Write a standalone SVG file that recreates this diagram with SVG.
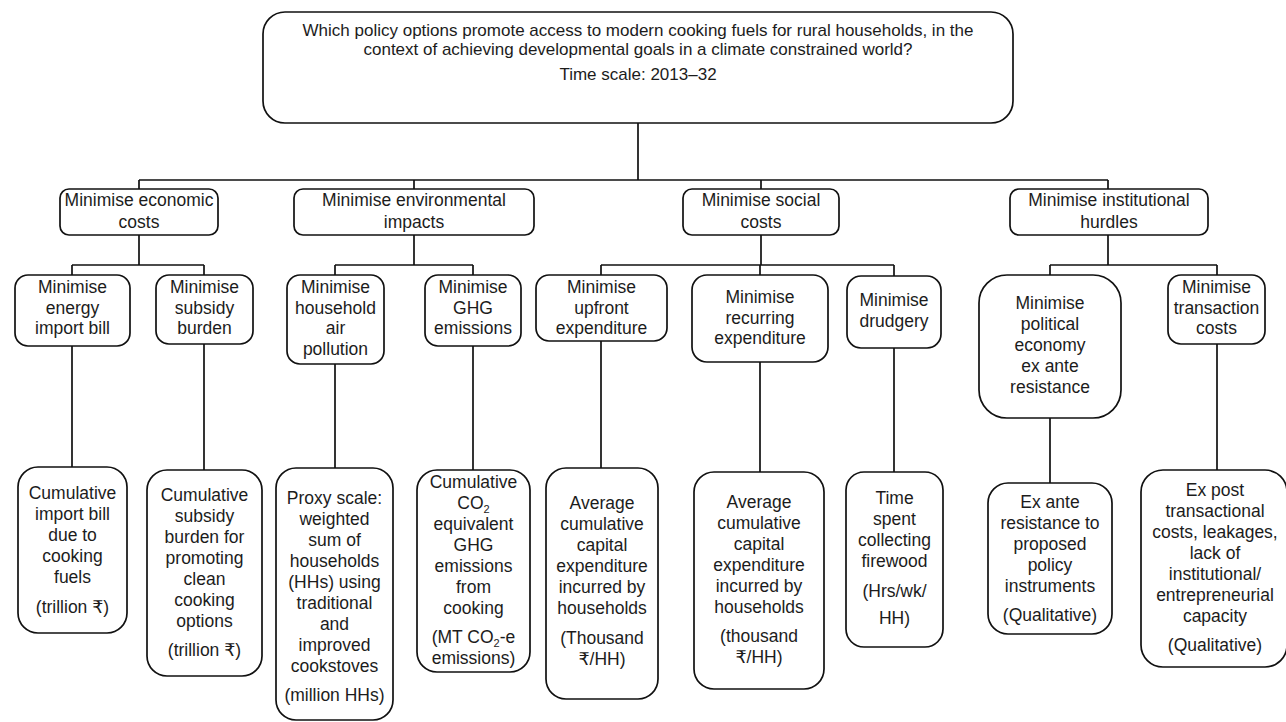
<svg xmlns="http://www.w3.org/2000/svg" width="1286" height="722" viewBox="0 0 1286 722">
<style>
.box{fill:#fff;stroke:#111;stroke-width:1.7}
.conn{fill:none;stroke:#111;stroke-width:1.7}
text{font-family:"Liberation Sans","DejaVu Sans","Noto Sans",sans-serif;font-size:17.5px;text-anchor:middle;fill:#1c1c1c}
.top text{font-size:17px}
.sub{font-size:11px}
</style>
<rect width="1286" height="722" fill="#fff"/>
<g id="connectors" class="conn">
<path d="M638 123V180M139 180H1108M139 180V189M414 180V189M761 180V189M1108 180V189"/>
<path d="M139 235V265M414 235V265M761 235V265M1108 235V265"/>
<path d="M72 265H204M335 265H473M601 265H894M1050 265H1217"/>
<path d="M72 265V275M204 265V275M335 265V275M473 265V275M601 265V275M760 265V275M894 265V276M1050 265V275M1217 265V275"/>
<path d="M72 346V467M204 344V470M335 364V468M473 346V470M601 341V468M760 362V472M894 348V472M1050 418V483M1217 344V470"/>
</g>
<g id="root" class="top">
<rect class="box" x="263" y="12" width="750" height="111" rx="22"/>
<text x="638" y="36">Which policy options promote access to modern cooking fuels for rural households, in the</text>
<text x="638" y="55">context of achieving developmental goals in a climate constrained world?</text>
<text x="638" y="80">Time scale: 2013–32</text>
</g>
<g id="economic">
<rect class="box" x="60" y="189" width="158" height="46" rx="9"/>
<text x="139" y="206">Minimise economic</text><text x="139" y="228">costs</text>
</g>
<g id="environmental">
<rect class="box" x="294" y="189" width="240" height="46" rx="9"/>
<text x="414" y="206">Minimise environmental</text><text x="414" y="228">impacts</text>
</g>
<g id="social">
<rect class="box" x="683" y="189" width="156" height="46" rx="9"/>
<text x="761" y="206">Minimise social</text><text x="761" y="228">costs</text>
</g>
<g id="institutional">
<rect class="box" x="1010" y="189" width="198" height="46" rx="9"/>
<text x="1109" y="206">Minimise institutional</text><text x="1109" y="228">hurdles</text>
</g>
<g id="energy">
<rect class="box" x="15" y="275" width="115" height="71" rx="13"/>
<text x="72.5" y="293">Minimise</text><text x="72.5" y="314">energy</text><text x="72.5" y="334">import bill</text>
</g>
<g id="subsidy">
<rect class="box" x="156" y="275" width="97" height="69" rx="13"/>
<text x="204.5" y="293">Minimise</text><text x="204.5" y="314">subsidy</text><text x="204.5" y="334">burden</text>
</g>
<g id="household">
<rect class="box" x="287" y="275" width="97" height="89" rx="13"/>
<text x="335.5" y="293">Minimise</text><text x="335.5" y="314">household</text><text x="335.5" y="334">air</text><text x="335.5" y="355">pollution</text>
</g>
<g id="ghg">
<rect class="box" x="425" y="275" width="96" height="71" rx="13"/>
<text x="473" y="293">Minimise</text><text x="473" y="314">GHG</text><text x="473" y="334">emissions</text>
</g>
<g id="upfront">
<rect class="box" x="536" y="275" width="131" height="66" rx="13"/>
<text x="601.5" y="293">Minimise</text><text x="601.5" y="314">upfront</text><text x="601.5" y="334">expenditure</text>
</g>
<g id="recurring">
<rect class="box" x="692" y="275" width="136" height="87" rx="15"/>
<text x="760" y="303">Minimise</text><text x="760" y="324">recurring</text><text x="760" y="344">expenditure</text>
</g>
<g id="drudgery">
<rect class="box" x="847" y="276" width="94" height="72" rx="14"/>
<text x="894" y="306">Minimise</text><text x="894" y="327">drudgery</text>
</g>
<g id="political">
<rect class="box" x="979" y="275" width="142" height="143" rx="28"/>
<text x="1050" y="309">Minimise</text><text x="1050" y="330">political</text><text x="1050" y="351">economy</text><text x="1050" y="372">ex ante</text><text x="1050" y="393">resistance</text>
</g>
<g id="transaction">
<rect class="box" x="1168" y="275" width="97" height="69" rx="13"/>
<text x="1216.5" y="293">Minimise</text><text x="1216.5" y="314">transaction</text><text x="1216.5" y="334">costs</text>
</g>
<g id="import-bill">
<rect class="box" x="18" y="467" width="109" height="166" rx="20"/>
<text x="72.5" y="499">Cumulative</text><text x="72.5" y="520">import bill</text><text x="72.5" y="541">due to</text><text x="72.5" y="562">cooking</text><text x="72.5" y="583">fuels</text>
<text x="72.5" y="613">(trillion ₹)</text>
</g>
<g id="subsidy-burden">
<rect class="box" x="147" y="470" width="115" height="206" rx="20"/>
<text x="204.5" y="501">Cumulative</text><text x="204.5" y="522">subsidy</text><text x="204.5" y="543">burden for</text><text x="204.5" y="564">promoting</text><text x="204.5" y="585">clean</text><text x="204.5" y="606">cooking</text><text x="204.5" y="627">options</text>
<text x="204.5" y="656">(trillion ₹)</text>
</g>
<g id="proxy-scale">
<rect class="box" x="276" y="468" width="117" height="252" rx="20"/>
<text x="334.5" y="504">Proxy scale:</text><text x="334.5" y="525">weighted</text><text x="334.5" y="546">sum of</text><text x="334.5" y="567">households</text><text x="334.5" y="588">(HHs) using</text><text x="334.5" y="609">traditional</text><text x="334.5" y="630">and</text><text x="334.5" y="651">improved</text><text x="334.5" y="672">cookstoves</text>
<text x="334.5" y="701">(million HHs)</text>
</g>
<g id="co2">
<rect class="box" x="417" y="470" width="113" height="202" rx="20"/>
<text x="473.5" y="488">Cumulative</text><text x="473.5" y="509">CO<tspan class="sub" dy="4">2</tspan></text><text x="473.5" y="530">equivalent</text><text x="473.5" y="551">GHG</text><text x="473.5" y="572">emissions</text><text x="473.5" y="593">from</text><text x="473.5" y="614">cooking</text>
<text x="473.5" y="643">(MT CO<tspan class="sub" dy="4">2</tspan><tspan dy="-4">-e</tspan></text><text x="473.5" y="664">emissions)</text>
</g>
<g id="upfront-capex">
<rect class="box" x="546" y="468" width="112" height="231" rx="20"/>
<text x="602" y="509">Average</text><text x="602" y="530">cumulative</text><text x="602" y="551">capital</text><text x="602" y="572">expenditure</text><text x="602" y="593">incurred by</text><text x="602" y="614">households</text>
<text x="602" y="644">(Thousand</text><text x="602" y="665">₹/HH)</text>
</g>
<g id="recurring-capex">
<rect class="box" x="694" y="472" width="130" height="217" rx="20"/>
<text x="759" y="508">Average</text><text x="759" y="529">cumulative</text><text x="759" y="550">capital</text><text x="759" y="571">expenditure</text><text x="759" y="592">incurred by</text><text x="759" y="613">households</text>
<text x="759" y="642">(thousand</text><text x="759" y="663">₹/HH)</text>
</g>
<g id="firewood">
<rect class="box" x="846" y="472" width="97" height="175" rx="18"/>
<text x="894.5" y="504">Time</text><text x="894.5" y="525">spent</text><text x="894.5" y="546">collecting</text><text x="894.5" y="567">firewood</text>
<text x="894.5" y="597">(Hrs/wk/</text><text x="894.5" y="624">HH)</text>
</g>
<g id="ex-ante">
<rect class="box" x="988" y="483" width="124" height="151" rx="20"/>
<text x="1050" y="508">Ex ante</text><text x="1050" y="529">resistance to</text><text x="1050" y="550">proposed</text><text x="1050" y="571">policy</text><text x="1050" y="592">instruments</text>
<text x="1050" y="621">(Qualitative)</text>
</g>
<g id="ex-post">
<rect class="box" x="1141" y="470" width="146" height="197" rx="22"/>
<text x="1215" y="496">Ex post</text><text x="1215" y="517">transactional</text><text x="1215" y="538">costs, leakages,</text><text x="1215" y="559">lack of</text><text x="1215" y="580">institutional/</text><text x="1215" y="601">entrepreneurial</text><text x="1215" y="622">capacity</text>
<text x="1215" y="651">(Qualitative)</text>
</g>
</svg>
